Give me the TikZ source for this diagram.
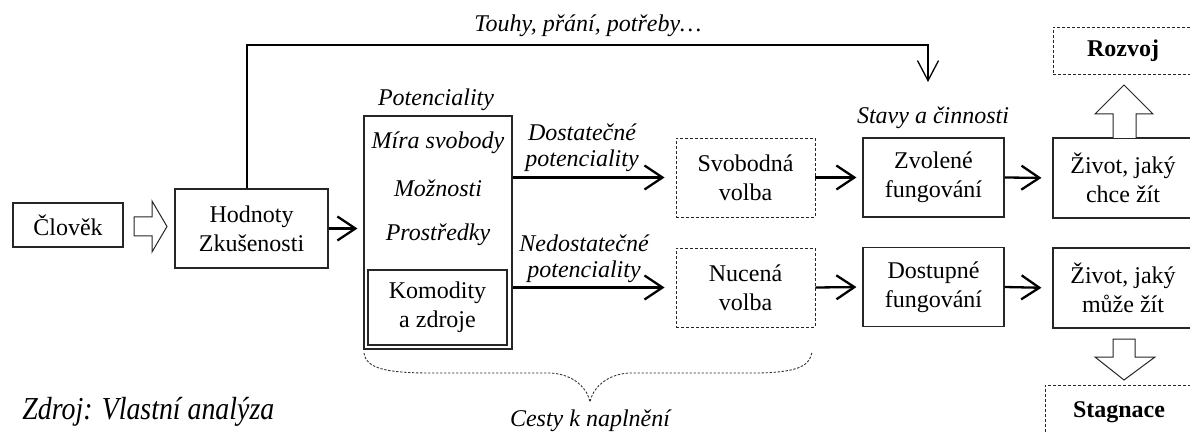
\documentclass[tikz,border=0pt]{standalone}
\usepackage{fontspec}
\setmainfont{Liberation Serif}
\usetikzlibrary{arrows.meta}
\begin{document}
\begin{tikzpicture}[x=0.5pt,y=-0.5pt,
  every node/.style={font=\fontsize{12}{14.5}\selectfont, inner sep=0pt, align=center},
  lab/.style={font=\fontsize{12}{13}\selectfont\itshape},
  boldlab/.style={font=\fontsize{12}{14.5}\selectfont\bfseries},
  solidbox/.style={draw=black!85, line width=0.55pt},
  dotbox/.style={draw=black!85, line width=0.45pt, dash pattern=on 1.5pt off 1pt},
  arr/.style={line width=1.15pt, -{Straight Barb[length=9pt,width=12pt]}},
  fbarr/.style={line width=0.65pt, -{Straight Barb[length=10pt,width=10.5pt]}},
  hollow/.style={draw=black!85, line width=0.5pt, fill=white},
  bracestyle/.style={draw=black!80, line width=0.45pt, dash pattern=on 1.2pt off 0.8pt}
]
\useasboundingbox (0,0) rectangle (1190,433);

% left part
\node[solidbox, minimum width=55pt, minimum height=22pt] (clovek) at (68,225) {Člověk};
\node[solidbox, minimum width=76.5pt, minimum height=39.5pt] (hodnoty) at (251.5,228.5) {Hodnoty\\Zkušenosti};

% Človek -> Hodnoty hollow arrow
\draw[hollow] (134,217) -- (152,217) -- (152,201) -- (167,226.5) -- (152,252) -- (152,236) -- (134,236) -- cycle;

% potenciality box
\node[solidbox, minimum width=74pt, minimum height=116.5pt] (pot) at (438,232.5) {};
\node[lab] (potlab) at (436,100) {Potenciality};
\node[lab] (mira) at (438,143) {Míra svobody};
\node[lab] (moz) at (438,188) {Možnosti};
\node[lab] (pros) at (438,235) {Prostředky};
\node[solidbox, minimum width=69.5pt, minimum height=37.5pt] (komod) at (437.5,307.5) {Komodity\\a zdroje};

\draw[arr, shorten >=3pt] (hodnoty.east) -- (hodnoty.east -| pot.west);

% choices
\node[dotbox, minimum width=69.5pt, minimum height=39.5pt] (svob) at (745.5,177.5) {Svobodná\\volba};
\node[dotbox, minimum width=69.5pt, minimum height=39.5pt] (nuc) at (745.5,287.5) {Nucená\\volba};

\draw[arr, shorten >=5.5pt] (svob.west -| pot.east) -- (svob.west);
\draw[arr, shorten >=5.5pt] (nuc.west -| pot.east) -- (nuc.west);
\node[lab] (dostlab) at (582,148) {Dostatečné\\potenciality};
\node[lab] (nedostlab) at (584,259) {Nedostatečné\\potenciality};

% functionings
\node[solidbox, minimum width=70.5pt, minimum height=39.5pt] (zvol) at (933.5,177.5) {Zvolené\\fungování};
\node[solidbox, minimum width=70.5pt, minimum height=39.5pt] (dost) at (933.5,287) {Dostupné\\fungování};
\node[lab] (stavy) at (933,118) {Stavy a činnosti};

\draw[arr, shorten >=3pt] (svob.east) -- (zvol.west);
\draw[arr, shorten >=3pt] (nuc.east) -- (dost.west);

% lives
\node[solidbox, minimum width=70pt, minimum height=40pt] (zchce) at (1123,178) {Život, jaký\\chce žít};
\node[solidbox, minimum width=70pt, minimum height=40pt] (zmuze) at (1123,288) {Život, jaký\\může žít};

\draw[arr, shorten >=5.5pt] (zvol.east) -- (zchce.west);
\draw[arr, shorten >=5.5pt] (dost.east) -- (zmuze.west);

% outcomes
\node[dotbox, boldlab, minimum width=70pt, minimum height=23.5pt] (rozvoj) at (1123,50.5) {Rozvoj};
\node[dotbox, boldlab, minimum width=74pt, minimum height=27.5pt] (stag) at (1119,412.5) {Stagnace};

\draw[hollow] (1113,138) -- (1113,114) -- (1095,114) -- (1124,85) -- (1153,114) -- (1136,114) -- (1136,138);
\draw[hollow] (1113,339) -- (1113,357) -- (1095,357) -- (1124,380) -- (1155,357) -- (1135,357) -- (1135,339) -- cycle;

% feedback connector
\coordinate (ftop) at (928,45);
\coordinate (fend) at (928,82);
\draw[fbarr] ([xshift=-2.25pt]hodnoty.north) |- (ftop) -- (fend);
\node[lab] (touhy) at (588,26) {Touhy, přání, potřeby…};

% brace
\draw[bracestyle] (364,353) .. controls (366,368) and (385,373) .. (430,373) -- (550,373)
  .. controls (575,374) and (588,390) .. (590,402)
  .. controls (592,390) and (605,374) .. (630,373) -- (760,373)
  .. controls (800,372) and (810,365) .. (812,352);
\node[lab] (cesty) at (590,421) {Cesty k naplnění};

\node[font=\fontsize{16}{19}\selectfont\itshape, anchor=west] (zdroj) at (22,412) {\scalebox{0.87}[1]{Zdroj: Vlastní analýza}};
\end{tikzpicture}
\end{document}
